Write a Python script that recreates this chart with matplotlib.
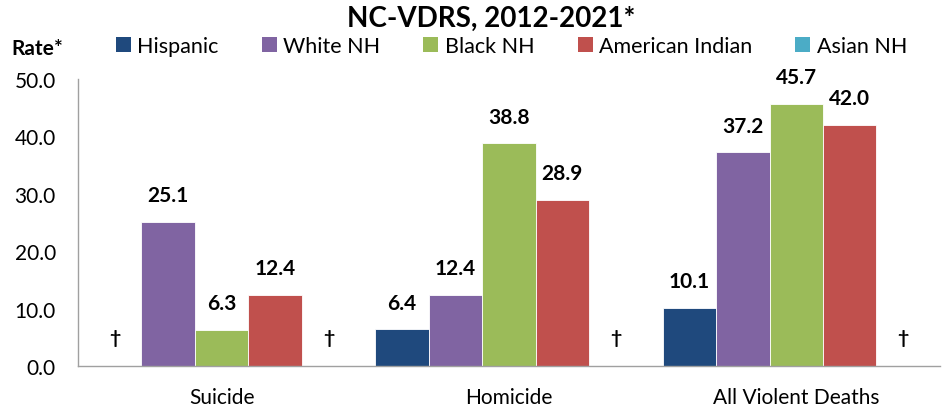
import numpy as np
import matplotlib
matplotlib.use("Agg")
import matplotlib.pyplot as plt
from matplotlib.patches import Patch

# --- DATA ---
categories = ["Suicide", "Homicide", "All Violent Deaths"]
series_names = ["Hispanic", "White NH", "Black NH", "American Indian", "Asian NH"]
hispanic = [np.nan, 6.4, 10.1]
white_nh = [25.1, 12.4, 37.2]
black_nh = [6.3, 38.8, 45.7]
american_indian = [12.4, 28.9, 42.0]
asian_nh = [np.nan, np.nan, np.nan]
yticks = [0, 10, 20, 30, 40, 50]

colors = ["#1F497D", "#8064A2", "#9BBB59", "#C0504D", "#4BACC6"]
all_series = [hispanic, white_nh, black_nh, american_indian, asian_nh]

plt.rcParams['font.family'] = ['Lato', 'DejaVu Sans']

fig = plt.figure(figsize=(9.42, 4.10), dpi=100)
ax = fig.add_axes([0.0828, 0.105, 0.915, 0.700])

x = np.arange(len(categories))
width = 0.186
for i, (vals, col) in enumerate(zip(all_series, colors)):
    pos = x + (i - 2) * width
    vals = np.array(vals, dtype=float)
    ax.bar(pos, np.nan_to_num(vals), width, color=col, edgecolor="white", linewidth=0.6)
    for p, v in zip(pos, vals):
        if np.isnan(v):
            # suppressed value marker
            ax.text(p, 5, "\u2020", ha="center", va="center", fontsize=14, fontweight="bold")
        else:
            ax.annotate(f"{v:.1f}", (p, v), xytext=(0, 12), textcoords="offset points",
                        ha="center", va="bottom", fontsize=15, fontweight="bold")

ax.set_xlim(-0.5, 2.5)
ax.set_ylim(0, 50)
ax.set_yticks(yticks)
ax.set_yticklabels([f"{t:.1f}" for t in yticks], fontsize=15)
ax.set_xticks(x)
ax.set_xticklabels(categories, fontsize=15)
ax.tick_params(axis="both", length=0)
ax.tick_params(axis="x", pad=15)
ax.tick_params(axis="y", pad=16)
for s in ["top", "right"]:
    ax.spines[s].set_visible(False)
for s in ["left", "bottom"]:
    ax.spines[s].set_color("#A0A0A0")
    ax.spines[s].set_linewidth(1.0)

fig.text(0.521, 0.955, "NC-VDRS, 2012-2021*", ha="center", va="center",
         fontsize=20, fontweight="bold")
fig.text(0.012, 0.88, "Rate*", ha="left", va="center", fontsize=15, fontweight="bold")

handles = [Patch(facecolor=c, edgecolor="none") for c in colors]
fig.legend(handles, series_names, loc="center", bbox_to_anchor=(0.543, 0.885), ncol=5,
           frameon=False, fontsize=15.5, handlelength=0.7, handleheight=0.7,
           handletextpad=0.3, columnspacing=2.0, borderpad=0)

fig.savefig("out.png", dpi=100)
